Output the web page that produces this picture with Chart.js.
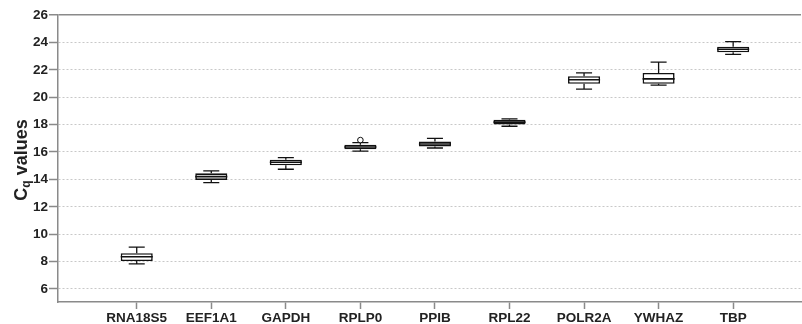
<!DOCTYPE html>
<html>
<head>
<meta charset="utf-8">
<script src="https://cdn.jsdelivr.net/npm/chart.js@4.4.0/dist/chart.umd.min.js"></script>
<style>
  html, body { margin: 0; padding: 0; background: #fff; }
</style>
</head>
<body>
<canvas id="chart" width="802" height="324"></canvas>
<script>
// Box plot values (Cq per reference gene)
const genes = ['RNA18S5', 'EEF1A1', 'GAPDH', 'RPLP0', 'PPIB', 'RPL22', 'POLR2A', 'YWHAZ', 'TBP'];
const whiskerLow  = [7.84, 13.77, 14.74, 16.07, 16.29, 17.88, 20.59, 20.88, 23.12];
const boxLow      = [8.04, 13.96, 15.03, 16.20, 16.40, 18.01, 20.98, 20.98, 23.28];
const medians     = [8.35, 14.20, 15.25, 16.36, 16.58, 18.18, 21.27, 21.34, 23.50];
const boxHigh     = [8.61, 14.44, 15.44, 16.53, 16.77, 18.35, 21.53, 21.77, 23.69];
const whiskerHigh = [9.06, 14.62, 15.59, 16.68, 17.00, 18.42, 21.78, 22.56, 24.06];
const outlierGene  = ['RPLP0'];
const outlierValue = [16.87];
const yTicks = [6, 8, 10, 12, 14, 16, 18, 20, 22, 24, 26];

const FONT = '"Liberation Sans", Arial, sans-serif';
const AXIS_GREY = '#8a8a8a';

// whiskers, medians and outliers drawn on top of the floating bars
const boxWhiskers = {
    id: 'boxWhiskers',
    afterDatasetsDraw(chart) {
        const ctx = chart.ctx;
        const xs = chart.scales.x;
        const ys = chart.scales.y;
        const bars = chart.getDatasetMeta(0).data;
        ctx.save();
        ctx.strokeStyle = '#111';
        genes.forEach((g, i) => {
            const x = xs.getPixelForValue(i + 1);
            const half = bars[i].width / 2;
            const cap = half / 2;
            ctx.lineWidth = 1.3;
            ctx.beginPath();
            // upper whisker
            ctx.moveTo(x, ys.getPixelForValue(boxHigh[i]));
            ctx.lineTo(x, ys.getPixelForValue(whiskerHigh[i]));
            ctx.moveTo(x - cap, ys.getPixelForValue(whiskerHigh[i]));
            ctx.lineTo(x + cap, ys.getPixelForValue(whiskerHigh[i]));
            // lower whisker
            ctx.moveTo(x, ys.getPixelForValue(boxLow[i]));
            ctx.lineTo(x, ys.getPixelForValue(whiskerLow[i]));
            ctx.moveTo(x - cap, ys.getPixelForValue(whiskerLow[i]));
            ctx.lineTo(x + cap, ys.getPixelForValue(whiskerLow[i]));
            ctx.stroke();
            // median
            ctx.beginPath();
            ctx.lineWidth = 1.6;
            ctx.moveTo(x - half, ys.getPixelForValue(medians[i]));
            ctx.lineTo(x + half, ys.getPixelForValue(medians[i]));
            ctx.stroke();
        });
        outlierGene.forEach((g, k) => {
            const x = xs.getPixelForValue(genes.indexOf(g) + 1);
            const y = ys.getPixelForValue(outlierValue[k]);
            ctx.beginPath();
            ctx.fillStyle = '#fff';
            ctx.lineWidth = 1;
            ctx.arc(x, y, 2.8, 0, Math.PI * 2);
            ctx.fill();
            ctx.stroke();
        });
        ctx.restore();
    }
};

// rotated y title with subscript q
const yTitle = {
    id: 'yTitle',
    afterDraw(chart) {
        const ctx = chart.ctx;
        const big = 'bold 18px ' + FONT;
        const small = 'bold 12px ' + FONT;
        ctx.save();
        ctx.fillStyle = '#222';
        ctx.textBaseline = 'alphabetic';
        ctx.font = big;
        const wC = ctx.measureText('C').width;
        const wRest = ctx.measureText(' values').width;
        ctx.font = small;
        const wq = ctx.measureText('q').width;
        const total = wC + wq + wRest;
        ctx.translate(27, 160);
        ctx.rotate(-Math.PI / 2);
        let x = -total / 2;
        ctx.font = big;
        ctx.fillText('C', x, 0);
        x += wC;
        ctx.font = small;
        ctx.fillText('q', x, 3);
        x += wq;
        ctx.font = big;
        ctx.fillText(' values', x, 0);
        ctx.restore();
    }
};

const chart = new Chart(document.getElementById('chart'), {
    type: 'bar',
    data: {
        datasets: [{
            data: genes.map((g, i) => ({ x: i + 1, y: [boxLow[i], boxHigh[i]] })),
            backgroundColor: '#fff',
            borderColor: '#111',
            borderWidth: 1.6,
            borderSkipped: false,
            barPercentage: 0.43,
            categoryPercentage: 1.0
        }]
    },
    options: {
        responsive: false,
        animation: false,
        layout: { padding: { top: 15, right: 1, left: 0, bottom: 0 } },
        plugins: {
            legend: { display: false },
            tooltip: { enabled: false }
        },
        scales: {
            x: {
                type: 'linear',
                offset: false,
                min: -0.056,
                max: 9.91,
                afterBuildTicks: s => { s.ticks = genes.map((g, i) => ({ value: i + 1 })); },
                afterFit: s => { s.height = 22; },
                grid: {
                    offset: false,
                    drawOnChartArea: false,
                    tickLength: 7,
                    tickColor: AXIS_GREY,
                    tickWidth: 1.5
                },
                border: { color: AXIS_GREY, width: 1.5 },
                ticks: {
                    callback: v => genes[v - 1],
                    autoSkip: false,
                    maxRotation: 0,
                    color: '#222',
                    padding: 1,
                    font: { family: FONT, size: 13.5, weight: 'bold' }
                }
            },
            y: {
                min: 5.05,
                max: 26,
                afterBuildTicks: s => { s.ticks = yTicks.map(v => ({ value: v })); },
                afterFit: s => { s.width = 58; },
                grid: {
                    color: c => (c.tick && c.tick.value === 26 ? AXIS_GREY : '#c8c8c8'),
                    lineWidth: c => (c.tick && c.tick.value === 26 ? 1.5 : 1),
                    tickLength: 9,
                    tickColor: AXIS_GREY,
                    tickWidth: 1.5
                },
                border: {
                    color: AXIS_GREY,
                    width: 1.5,
                    dash: c => (c.tick && c.tick.value === 26 ? [] : [2, 2])
                },
                ticks: {
                    color: '#222',
                    padding: 1,
                    font: { family: FONT, size: 13.5, weight: 'bold' }
                }
            }
        }
    },
    plugins: [boxWhiskers, yTitle]
});
</script>
</body>
</html>
